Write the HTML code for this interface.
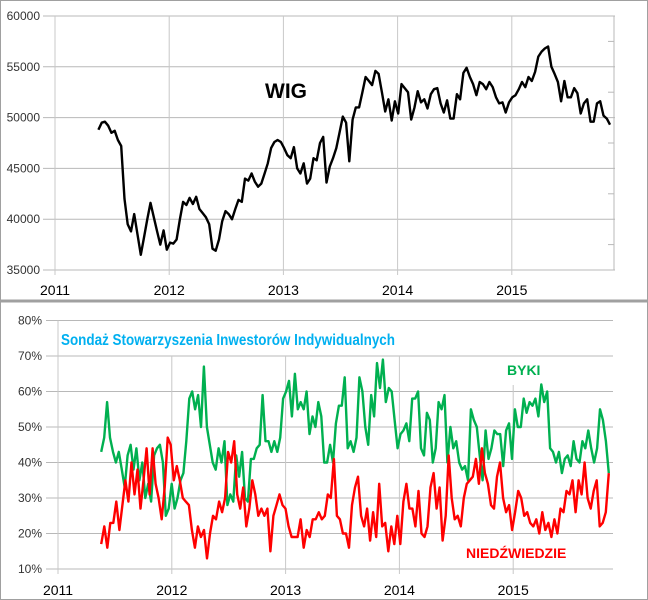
<!DOCTYPE html>
<html><head><meta charset="utf-8"><style>
body{margin:0;background:#fff}
svg{display:block;font-family:"Liberation Sans",sans-serif}
</style></head><body>
<svg id="c" width="648" height="600">
<rect x="0.5" y="0.5" width="647" height="599" fill="#fff" stroke="#a0a0a0"/>
<line x1="0" y1="301" x2="648" y2="301" stroke="#a0a0a0" stroke-width="3"/>
<g id="topg"></g>
<g id="botg"></g>
<text x="265" y="98" font-size="21" font-weight="bold" fill="#000">WIG</text>
<text x="61" y="345" font-size="16" font-weight="bold" fill="#00b0f0" textLength="334" lengthAdjust="spacingAndGlyphs">Sondaż Stowarzyszenia Inwestorów Indywidualnych</text>
<text x="507" y="375" font-size="14" font-weight="bold" fill="#00b050">BYKI</text>
<text x="466" y="558" font-size="14" font-weight="bold" fill="#ff0000">NIEDŹWIEDZIE</text>
</svg>
<script>
const years=[2011,2012,2013,2014,2015];
const wigTicks=[35000,40000,45000,50000,55000,60000];
const rightTicks=[37500,42500,47500,52500,57500];
const pctTicks=[10,20,30,40,50,60,70,80];
const wigStart=2011.38, wigEnd=2015.86;
const wig=[48.8,49.5,49.6,49.2,48.5,48.7,47.8,47.2,42,39.5,38.8,40.5,38.5,36.5,38.2,40.0,41.6,40.2,38.8,37.5,38.9,37.0,37.7,37.6,38.0,40.0,41.7,41.4,42.1,41.5,42.2,41.0,40.6,40.2,39.5,37.1,36.9,38.0,39.8,40.8,40.5,40.0,41.0,41.9,41.7,44.0,43.8,44.5,43.7,43.2,43.5,44.5,45.5,47.0,47.6,47.8,47.6,47.0,46.3,46.0,47.1,45.0,44.5,45.5,43.5,44.0,46.0,45.8,47.5,48.1,43.6,45.2,46.0,47.0,48.5,50.1,49.5,45.7,49.8,51.0,51.0,52.5,54.0,53.6,53.2,54.6,54.3,52.5,50.6,51.8,49.7,51.6,50.4,53.3,52.9,52.5,49.8,51.0,52.6,51.5,51.8,50.9,52.3,52.8,52.9,51.4,50.5,51.7,49.9,49.9,52.3,51.8,54.4,54.9,54.0,53.3,52.2,53.5,53.3,52.8,53.5,53.0,52.0,51.4,51.5,50.5,51.5,52.0,52.2,52.8,53.5,53.0,54.0,53.6,54.5,56.0,56.5,56.8,57.0,55.0,54.3,53.5,51.6,53.6,52.0,52.0,52.9,52.4,50.4,51.4,51.8,49.6,49.6,51.4,51.6,50.2,49.9,49.3];
const sStart=2011.38, sEnd=2015.84;
const bulls=[43,47,57,47,43,40,43,38,33,42,45,38,44,35,40,30,34,29,42,44,45,40,25,27,34,27,30,35,37,46,58,60,55,59,50,67,50,45,40,38,44,40,46,28,31,29,42,36,43,30,29,41,41,44,45,59,46,46,43,46,43,47,58,60,63,53,65,55,57,55,60,48,53,50,57,53,40,40,45,40,51,56,56,64,44,46,43,47,64,60,50,45,59,53,68,61,69,57,61,60,52,44,48,49,51,46,58,58,60,44,42,54,52,40,44,57,55,59,40,50,44,46,40,38,39,35,55,52,50,42,35,49,41,44,49,48,48,39,49,51,41,55,50,50,58,54,57,56,58,53,62,57,60,44,43,40,43,37,41,42,39,46,41,40,46,44,49,44,40,44,55,52,46,37];
const bears=[17,22,16,23,23,29,21,28,35,29,40,31,38,27,35,44,31,44,34,30,24,33,47,45,35,39,35,30,29,28,21,16,22,19,21,13,20,25,24,29,26,30,43,40,46,31,27,33,22,27,35,31,25,27,25,27,15,25,28,31,28,27,22,19,19,19,24,16,21,19,24,24,26,24,25,31,30,41,25,24,20,20,16,28,33,36,25,22,27,18,26,19,34,22,23,15,22,17,25,17,29,34,27,27,22,32,20,19,22,33,37,27,33,18,25,42,30,24,25,22,30,34,35,36,41,34,44,37,34,28,27,36,40,30,26,28,21,26,32,30,25,26,23,22,24,20,26,21,23,19,24,20,27,26,32,31,35,26,35,31,40,30,27,32,35,22,23,26,37];
const NS="http://www.w3.org/2000/svg";
function mk(p,t,a){const e=document.createElementNS(NS,t);for(const k in a)e.setAttribute(k,a[k]);p.appendChild(e);return e;}
const tx=y=>55+(y-2011)*114.2, ty=v=>270-(v-35000)/25000*254;
const topG=document.getElementById('topg');
wigTicks.forEach(v=>{const l=mk(topG,'line',{x1:43,x2:615,y1:ty(v),y2:ty(v),stroke:'#b8b8b8'});


const t=mk(topG,'text',{x:40,y:ty(v)+4,'font-size':12,'text-anchor':'end',fill:'#333'});t.textContent=v;

});
const ra=mk(topG,'line',{x1:614,x2:614,y1:ty(60000),y2:ty(35000),stroke:'#b8b8b8'});


rightTicks.forEach(v=>{const l=mk(topG,'line',{x1:608,x2:614,y1:ty(v),y2:ty(v),stroke:'#b8b8b8'});

});
years.forEach(y=>{const l=mk(topG,'line',{x1:tx(y),x2:tx(y),y1:16,y2:275,stroke:'#c8c8c8'});


const t=mk(topG,'text',{x:tx(y),y:295,'font-size':14,'text-anchor':'middle',fill:'#000'});t.textContent=y;

});
const wd=wig.map((v,i)=>(i?'L':'M')+tx(wigStart+(wigEnd-wigStart)*i/(wig.length-1)).toFixed(1)+','+ty(v*1000).toFixed(1)).join('');
const wl=mk(topG,'path',{d:wd,fill:'none',stroke:'#000','stroke-width':2.4,'stroke-linejoin':'round'});


const bx=y=>58+(y-2011)*113.8, by=v=>569-(v-10)/70*248.5;
const botG=document.getElementById('botg');
pctTicks.forEach(v=>{const l=mk(botG,'line',{x1:46,x2:613,y1:by(v),y2:by(v),stroke:'#b8b8b8'});


const t=mk(botG,'text',{x:42,y:by(v)+4,'font-size':12,'text-anchor':'end',fill:'#333'});t.textContent=v+'%';

});
years.forEach(y=>{const l=mk(botG,'line',{x1:bx(y),x2:bx(y),y1:y==2011?by(80):(y==2015?385:by(70)),y2:574,stroke:'#c8c8c8'});


const t=mk(botG,'text',{x:bx(y),y:595,'font-size':14,'text-anchor':'middle',fill:'#000'});t.textContent=y;

});
function series(arr,col,name){const dd=arr.map((v,i)=>(i?'L':'M')+bx(sStart+(sEnd-sStart)*i/(arr.length-1)).toFixed(1)+','+by(v).toFixed(1)).join('');
const p=mk(botG,'path',{d:dd,fill:'none',stroke:col,'stroke-width':2.4,'stroke-linejoin':'round'});

}
series(bulls,'#00b050','bulls-line');
series(bears,'#ff0000','bears-line');
</script>
</body></html>
